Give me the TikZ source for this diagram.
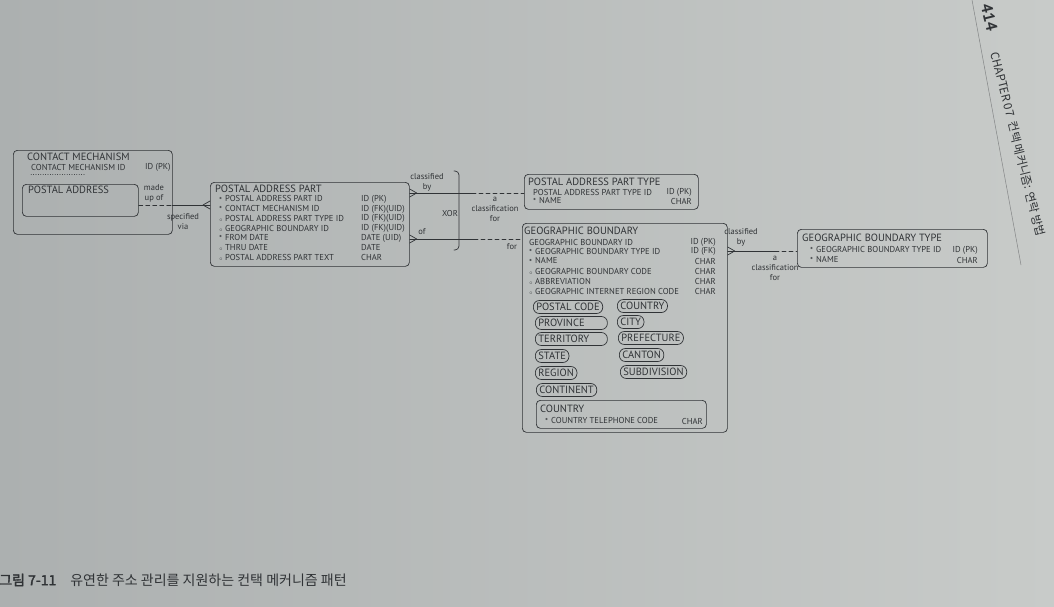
\documentclass[tikz,border=0pt]{standalone}
\usepackage{fontspec}
\setmainfont{PT Sans}
\newfontfamily\krfont{Noto Sans CJK KR}[AutoFakeBold=2.5]
\usetikzlibrary{calc}
\definecolor{paperL}{RGB}{172,176,176}
\definecolor{paperR}{RGB}{200,203,201}
\definecolor{ink}{RGB}{48,51,54}
\newcommand\reqmk{\makebox[6pt][l]{\raisebox{-.35ex}{*}}}
\newcommand\optmk{\makebox[6pt][l]{$\scriptscriptstyle\circ$}}

\begin{document}
\begin{tikzpicture}[x=1pt,y=-1pt,line cap=round,line join=round,
    every node/.style={text=ink,inner sep=0pt},
    entity@/.style={draw=ink,line width=.7pt,rounded corners=4pt,anchor=north west},
    title@/.style={anchor=west,font=\fontsize{10.5}{10.5}\selectfont},
    attr@/.style={anchor=west,font=\fontsize{8.6}{8.6}\selectfont},
    rel@/.style={font=\fontsize{8.5}{10}\selectfont,align=center},
    pill@/.style={draw=ink,line width=.7pt,rounded corners=6pt,anchor=west,
      minimum height=13pt,inner xsep=3pt,font=\fontsize{10.5}{10.5}\selectfont},
    link@/.style={draw=ink,line width=.7pt},
    dash@/.style={link@,dash pattern=on 4pt off 3pt}]
    \useasboundingbox (0,0) rectangle (1054,607);
    \shade[left color=paperL,right color=paperR] (0,0) rectangle (1054,607);

    % Contact mechanism with its postal address subtype.
    \node[entity@,minimum width=159pt,minimum height=84pt] (cm) at (13,150) {};
    \node[title@] (cm-t) at (27,157) {CONTACT MECHANISM};
    \node[attr@] (cm-n0) at (31,167) {CONTACT MECHANISM ID};
    \node[attr@] (cm-t0) at (145,167) {ID (PK)};
    \draw[ink,line width=.4pt,dotted] (31,174) -- (85,174);
    \node[entity@,minimum width=116pt,minimum height=32pt] (pa) at (22,184) {};
    \node[title@] (pa-t) at (28,190) {POSTAL ADDRESS};
    \node[rel@] (madeup) at (154,193) {made\\up of};
    \node[rel@] (specvia) at (183,222) {specified\\via};

    % Postal address part.
    \node[entity@,minimum width=199pt,minimum height=84pt] (pap) at (210,182) {};
    \node[title@] (pap-t) at (215,189) {POSTAL ADDRESS PART};
    \foreach \mk/\nm/\ty [count=\i from 0] in {
        \reqmk/POSTAL ADDRESS PART ID/ID (PK),
        \reqmk/CONTACT MECHANISM ID/ID (FK)(UID),
        \optmk/POSTAL ADDRESS PART TYPE ID/ID (FK)(UID),
        \optmk/GEOGRAPHIC BOUNDARY ID/ID (FK)(UID),
        \reqmk/FROM DATE/DATE (UID),
        \optmk/THRU DATE/DATE,
        \optmk/POSTAL ADDRESS PART TEXT/CHAR} {
      \node[attr@] (pap-n\i) at (219,{199.3+9.7*\i}) {\mk\nm};
      \node[attr@] (pap-t\i) at (361,{199.3+9.7*\i}) {\ty};
    }

    % Postal address part type.
    \node[entity@,minimum width=174pt,minimum height=35pt] (papt) at (524,174) {};
    \node[title@] (papt-t) at (528,182) {POSTAL ADDRESS PART TYPE};
    \node[attr@] (papt-n0) at (533,192) {POSTAL ADDRESS PART TYPE ID};
    \node[attr@,anchor=east] (papt-t0) at (692,192) {ID (PK)};
    \node[attr@] (papt-n1) at (533,201) {\reqmk NAME};
    \node[attr@,anchor=east] (papt-t1) at (692,201) {CHAR};

    % Geographic boundary, its subtypes and the country subtype.
    \node[entity@,minimum width=205pt,minimum height=209pt] (gb) at (522,223) {};
    \node[title@] (gb-t) at (524,231) {GEOGRAPHIC BOUNDARY};
    \foreach \mk/\nm/\ty [count=\i from 0] in {
        \relax/GEOGRAPHIC BOUNDARY ID/ID (PK),
        \reqmk/GEOGRAPHIC BOUNDARY TYPE ID/ID (FK),
        \reqmk/NAME/CHAR,
        \optmk/GEOGRAPHIC BOUNDARY CODE/CHAR,
        \optmk/ABBREVIATION/CHAR,
        \optmk/GEOGRAPHIC INTERNET REGION CODE/CHAR} {
      \node[attr@] (gb-n\i) at (529,{242+9.8*\i}) {\mk\nm};
      \node[attr@,anchor=east] (gb-t\i) at (716,{242+9.8*\i}) {\ty};
    }
    \node[pill@] (gb-s1) at (533,307) {POSTAL CODE};
    \node[pill@,text width=66pt,align=left] (gb-s2) at (535,323) {PROVINCE};
    \node[pill@,text width=66pt,align=left] (gb-s3) at (535,339) {TERRITORY};
    \node[pill@] (gb-s4) at (535,356) {STATE};
    \node[pill@] (gb-s5) at (535,373) {REGION};
    \node[pill@] (gb-s6) at (536,390) {CONTINENT};
    \node[pill@] (gb-s7) at (617,306) {COUNTRY};
    \node[pill@] (gb-s8) at (617,322) {CITY};
    \node[pill@] (gb-s9) at (618,338) {PREFECTURE};
    \node[pill@] (gb-s10) at (619,355) {CANTON};
    \node[pill@] (gb-s11) at (620,372) {SUBDIVISION};
    \node[entity@,minimum width=170pt,minimum height=28pt] (ctry) at (536,400) {};
    \node[title@] (ctry-t) at (540,409) {COUNTRY};
    \node[attr@] (ctry-n0) at (545,421) {\reqmk COUNTRY TELEPHONE CODE};
    \node[attr@,anchor=east] (ctry-t0) at (703,421) {CHAR};

    % Geographic boundary type.
    \node[entity@,minimum width=190pt,minimum height=38pt] (gbt) at (797,229) {};
    \node[title@] (gbt-t) at (802,238) {GEOGRAPHIC BOUNDARY TYPE};
    \node[attr@] (gbt-n0) at (810,250) {\reqmk GEOGRAPHIC BOUNDARY TYPE ID};
    \node[attr@,anchor=east] (gbt-t0) at (978,250) {ID (PK)};
    \node[attr@] (gbt-n1) at (810,260) {\reqmk NAME};
    \node[attr@,anchor=east] (gbt-t1) at (978,260) {CHAR};

    % Relationships.
    \coordinate (m1) at (172,205);
    \draw[dash@] (m1 -| pa.east) -- (m1);
    \draw[link@] (m1) -- (m1 -| pap.west);
    \draw[link@] (m1 -| pap.west) ++(0,-4) -- ++(-7,4) -- ++(7,4);

    \coordinate (m2) at (472,193);
    \draw[link@] (m2 -| pap.east) -- (m2);
    \draw[dash@] (m2) -- (m2 -| papt.west);
    \draw[link@] (m2 -| pap.east) ++(0,-4) -- ++(7,4) -- ++(-7,4);
    \node[rel@] (clby1) at (427,182) {classified\\by};
    \node[rel@] (aclass1) at (495,209) {a\\classification\\for};

    \coordinate (m3) at (474,239);
    \draw[link@] (m3 -| pap.east) -- (m3);
    \draw[dash@] (m3) -- (m3 -| gb.west);
    \draw[link@] (m3 -| pap.east) ++(0,-4) -- ++(7,4) -- ++(-7,4);
    \node[rel@] (of) at (422,232) {of};
    \node[rel@] (for) at (512,247) {for};

    \draw[link@,rounded corners=4pt] (454,171) -- (459,171) -- (459,250) -- (454,250);
    \node[rel@] (xor) at (450,214) {XOR};

    \coordinate (m4) at (775,251);
    \draw[link@] (m4 -| gb.east) -- (m4);
    \draw[dash@] (m4) -- (m4 -| gbt.west);
    \draw[link@] (m4 -| gb.east) ++(0,-4) -- ++(7,4) -- ++(-7,4);
    \node[rel@] (clby2) at (741,237) {classified\\by};
    \node[rel@] (aclass2) at (775,268) {a\\classification\\for};

    % Page header and caption.
    \draw[ink!60,line width=.5pt] (972,0) -- (1021,265);
    \node[rotate=-76,anchor=west,font=\bfseries\fontsize{16}{16}\selectfont] (pgno) at (986,4) {414};
    \node[rotate=-76,anchor=west,font=\krfont\fontsize{11.5}{11.5}\selectfont] (chap) at (995,52)
      {CHAPTER 07\enspace 컨택 메커니즘: 연락 방법};
    \node[anchor=west,font=\krfont\fontsize{14}{14}\selectfont] (cap) at (-1,580)
      {\textbf{그림 7-11}\quad 유연한 주소 관리를 지원하는 컨택 메커니즘 패턴};
  \end{tikzpicture}
\end{document}
